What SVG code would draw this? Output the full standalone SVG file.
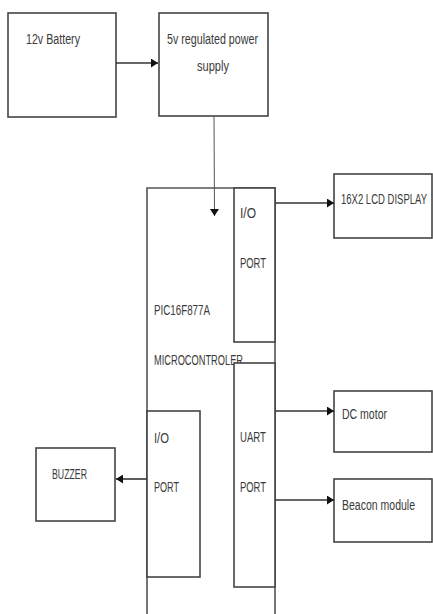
<svg xmlns="http://www.w3.org/2000/svg" width="433" height="614" viewBox="0 0 433 614">
<style>
.box{fill:#fff;stroke:#444;stroke-width:1.6}
.ln{fill:none;stroke:#333;stroke-width:1.6}
.t{font-family:"Liberation Sans",Arial,sans-serif;font-size:15.5px;fill:#3a3a3a}
</style>
<defs>
<marker id="ah" markerUnits="userSpaceOnUse" markerWidth="8" markerHeight="9" refX="7" refY="4.5" orient="auto">
<path d="M0,0 L7,4.5 L0,9 Z" fill="#111"/>
</marker>
</defs>
<g id="battery">
<rect class="box" x="8" y="13" width="108" height="104"/>
<text class="t" x="26" y="44" textLength="54" lengthAdjust="spacingAndGlyphs">12v Battery</text>
</g>
<g id="power">
<rect class="box" x="159" y="13" width="109" height="103"/>
<text class="t" x="167" y="44" textLength="91" lengthAdjust="spacingAndGlyphs">5v regulated power</text>
<text class="t" x="197" y="71" textLength="32" lengthAdjust="spacingAndGlyphs">supply</text>
</g>
<g id="micro">
<path class="ln" d="M147,614 V188 H275 V614" style="stroke:#555"/>
<text class="t" x="154" y="315" textLength="56" lengthAdjust="spacingAndGlyphs">PIC16F877A</text>
<text class="t" x="154" y="365" textLength="89" lengthAdjust="spacingAndGlyphs">MICROCONTROLER</text>
</g>
<g id="io1">
<rect class="box" x="234" y="188" width="41" height="154"/>
<text class="t" x="240" y="218" textLength="16" lengthAdjust="spacingAndGlyphs">I/O</text>
<text class="t" x="240" y="268" textLength="26" lengthAdjust="spacingAndGlyphs">PORT</text>
</g>
<g id="uart">
<rect class="box" x="234" y="363" width="41" height="224"/>
<text class="t" x="240" y="442" textLength="26" lengthAdjust="spacingAndGlyphs">UART</text>
<text class="t" x="240" y="492" textLength="26" lengthAdjust="spacingAndGlyphs">PORT</text>
</g>
<g id="io2">
<rect class="box" x="147" y="411" width="53" height="166"/>
<text class="t" x="154" y="443" textLength="15" lengthAdjust="spacingAndGlyphs">I/O</text>
<text class="t" x="154" y="492" textLength="25" lengthAdjust="spacingAndGlyphs">PORT</text>
</g>
<g id="lcd">
<rect class="box" x="334" y="174" width="98" height="64"/>
<text class="t" x="341" y="204" textLength="86" lengthAdjust="spacingAndGlyphs">16X2 LCD DISPLAY</text>
</g>
<g id="dcmotor">
<rect class="box" x="334" y="391" width="98" height="61"/>
<text class="t" x="342" y="419" textLength="45" lengthAdjust="spacingAndGlyphs">DC motor</text>
</g>
<g id="beacon">
<rect class="box" x="334" y="479" width="98" height="63"/>
<text class="t" x="342" y="510" textLength="73" lengthAdjust="spacingAndGlyphs">Beacon module</text>
</g>
<g id="buzzer">
<rect class="box" x="36" y="448" width="79" height="73"/>
<text class="t" x="52" y="479" textLength="35" lengthAdjust="spacingAndGlyphs">BUZZER</text>
</g>
<g id="connectors">
<line class="ln" x1="116" y1="63" x2="158" y2="63" marker-end="url(#ah)"/>
<line class="ln" x1="214" y1="116" x2="214.5" y2="216" style="stroke-width:1;stroke:#555" marker-end="url(#ah)"/>
<line class="ln" x1="275" y1="203" x2="334" y2="203" marker-end="url(#ah)"/>
<line class="ln" x1="275" y1="411" x2="334" y2="411" marker-end="url(#ah)"/>
<line class="ln" x1="275" y1="500" x2="334" y2="500" marker-end="url(#ah)"/>
<line class="ln" x1="147" y1="479" x2="116" y2="479" marker-end="url(#ah)"/>
</g>
</svg>
